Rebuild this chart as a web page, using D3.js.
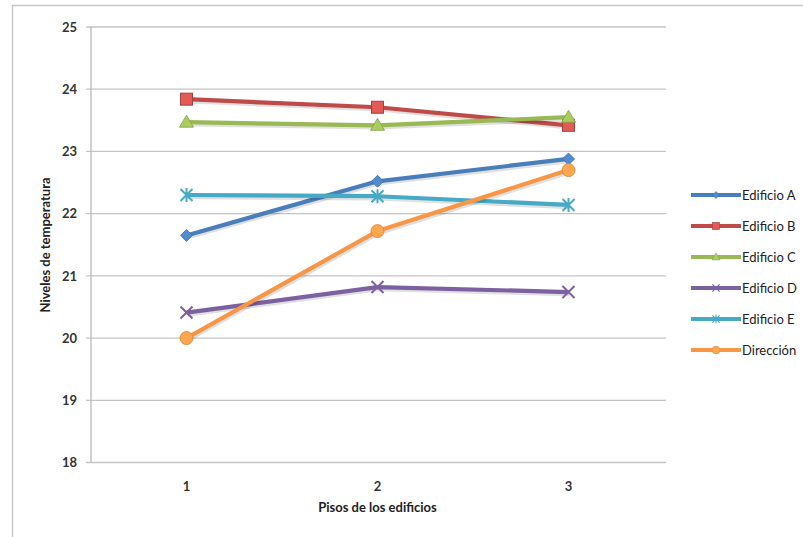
<!DOCTYPE html>
<html><head><meta charset="utf-8">
<script src="https://cdn.jsdelivr.net/npm/d3@7"></script>
<style>
body{margin:0;background:#fff;}
text{font-family:Lato,"Open Sans",sans-serif;}
</style></head>
<body><svg id="c" width="803" height="537"></svg>
<script>
const pisos = ["1","2","3"];
const seriesNames = ["Edificio A","Edificio B","Edificio C","Edificio D","Edificio E","Dirección"];
const edificioA = [21.65, 22.52, 22.88];
const edificioB = [23.84, 23.71, 23.42];
const edificioC = [23.47, 23.42, 23.55];
const edificioD = [20.41, 20.82, 20.74];
const edificioE = [22.30, 22.28, 22.14];
const direccion = [20.00, 21.72, 22.70];
const yTicks = [18,19,20,21,22,23,24,25];
const colors = ["#4A7EBB","#BE4B48","#98B954","#7D60A0","#46AAC5","#F79646"];
const markers = ["diamond","square","triangle","x","star","circle"];
const allSeries = [edificioA,edificioB,edificioC,edificioD,edificioE,direccion];

const svg = d3.select("#c");
svg.append("line").attr("x1",12).attr("x2",803).attr("y1",5.5).attr("y2",5.5).attr("stroke","#c8c8c8").attr("stroke-width",1.5);
svg.append("line").attr("x1",12.5).attr("x2",12.5).attr("y1",5).attr("y2",537).attr("stroke","#c8c8c8").attr("stroke-width",1.5);

const L=91, R=664, T=27, B=462.5;
const x = d3.scaleBand().domain(pisos).range([L,R]);
const y = d3.scaleLinear().domain([18,25]).range([B,T]);

svg.append("g").selectAll("line").data(yTicks).join("line")
  .attr("x1",86).attr("x2",R+2).attr("y1",d=>y(d)).attr("y2",d=>y(d))
  .attr("stroke","#c4c4c4").attr("stroke-width",1.3);
svg.append("line").attr("x1",L).attr("x2",L).attr("y1",T).attr("y2",B).attr("stroke","#b8b8b8").attr("stroke-width",1.3);

const yAxis = d3.axisLeft(y).tickValues(yTicks).tickFormat(d3.format("d")).tickSize(0).tickPadding(14);
const gy = svg.append("g").attr("transform",`translate(${L},0)`).call(yAxis);
gy.select(".domain").remove();
gy.selectAll("text").attr("font-size",13).attr("font-weight","bold").attr("fill","#333").attr("font-family","Lato, sans-serif");

const xAxis = d3.axisBottom(x).tickSize(0).tickPadding(19);
const gx = svg.append("g").attr("transform",`translate(0,${B})`).call(xAxis);
gx.select(".domain").remove();
gx.selectAll("text").attr("font-size",13).attr("font-weight","bold").attr("fill","#333").attr("font-family","Lato, sans-serif");

svg.append("text").attr("x",(L+R)/2).attr("y",512).attr("text-anchor","middle")
  .attr("font-size",13).attr("font-weight","bold").attr("fill","#222").text("Pisos de los edificios");
svg.append("text").attr("transform","translate(50,245) rotate(-90)").attr("text-anchor","middle")
  .attr("font-size",13).attr("font-weight","bold").attr("fill","#222").text("Niveles de temperatura");

function drawMarker(g, type, cx, cy, color){
  const dark = d3.color(color).darker(0.4);
  if(type==="diamond"){
    g.append("path").attr("d",`M${cx},${cy-6}L${cx+6},${cy}L${cx},${cy+6}L${cx-6},${cy}Z`).attr("fill",d3.color(color).brighter(0.3)).attr("stroke",dark).attr("stroke-width",0.8);
  } else if(type==="square"){
    g.append("rect").attr("x",cx-6).attr("y",cy-6).attr("width",12).attr("height",12).attr("fill",d3.color(color).brighter(0.5)).attr("stroke",dark).attr("stroke-width",1);
  } else if(type==="triangle"){
    g.append("path").attr("d",`M${cx},${cy-7}L${cx+7},${cy+5}L${cx-7},${cy+5}Z`).attr("fill",d3.color(color).brighter(0.3)).attr("stroke",dark).attr("stroke-width",0.8);
  } else if(type==="x"){
    g.append("path").attr("d",`M${cx-6},${cy-6}L${cx+6},${cy+6}M${cx-6},${cy+6}L${cx+6},${cy-6}`).attr("stroke",color).attr("stroke-width",2);
  } else if(type==="star"){
    g.append("path").attr("d",`M${cx-6},${cy-6}L${cx+6},${cy+6}M${cx-6},${cy+6}L${cx+6},${cy-6}M${cx},${cy-7}L${cx},${cy+7}`).attr("stroke",color).attr("stroke-width",2);
  } else {
    g.append("circle").attr("cx",cx).attr("cy",cy).attr("r",6.5).attr("fill",d3.color(color).brighter(0.3)).attr("stroke",dark).attr("stroke-width",0.8);
  }
}

const line = d3.line().x((d,i)=>x(pisos[i])+x.bandwidth()/2).y(d=>y(d));
allSeries.forEach((s,k)=>{
  const g = svg.append("g");
  g.append("path").datum(s).attr("d",line).attr("fill","none").attr("stroke","#000").attr("stroke-opacity",0.12)
    .attr("stroke-width",4.5).attr("transform","translate(1,2)").attr("stroke-linejoin","round");
  g.append("path").datum(s).attr("d",line).attr("fill","none").attr("stroke",colors[k]).attr("stroke-width",4.2).attr("stroke-linejoin","round");
  s.forEach((v,i)=>drawMarker(g, markers[k], x(pisos[i])+x.bandwidth()/2, y(v), colors[k]));
});

const lg = svg.append("g");
seriesNames.forEach((n,k)=>{
  const yy = 195 + k*31;
  lg.append("line").attr("x1",691).attr("x2",741).attr("y1",yy).attr("y2",yy).attr("stroke",colors[k]).attr("stroke-width",4.2);
  const mg = lg.append("g");
  drawMarker(mg, markers[k], 716, yy, colors[k]);
  mg.attr("transform",`translate(${716*0.4},${yy*0.4}) scale(0.6)`);
  lg.append("text").attr("x",742).attr("y",yy+4.5).attr("font-size",13).attr("fill","#222").text(n);
});
</script></body></html>
